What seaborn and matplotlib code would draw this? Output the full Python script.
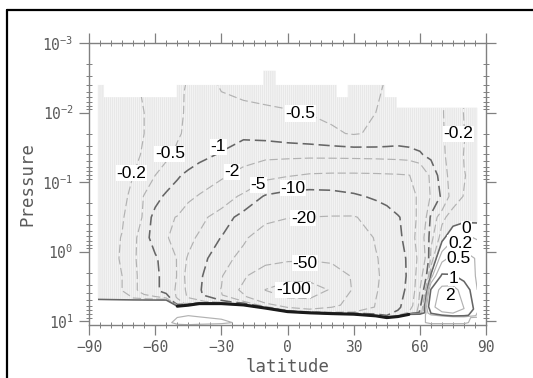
import numpy as np
import seaborn as sns
import matplotlib.pyplot as plt
from matplotlib.lines import Line2D
from matplotlib.patches import Polygon
from matplotlib.ticker import MultipleLocator

# ---------------- data ----------------
lat = [-86, -80, -75, -70, -65, -60, -55, -50, -45, -40, -30, -20, -10, 0,
       10, 20, 30, 40, 45, 50, 55, 60, 65, 70, 75, 80, 86]

# fixed pressure levels of the upper grid rows
p_levels = [0.0025, 0.005, 0.01, 0.02, 0.04, 0.08, 0.16, 0.32, 0.63, 1.25, 2.24, 3.55]
# surface pressure at each latitude
p_surf = [5.0, 5.0, 5.0, 5.0, 5.0, 5.0, 5.0, 6.1, 5.9, 5.6, 5.6, 5.85, 6.5, 7.3,
          7.6, 7.8, 7.95, 8.4, 8.9, 8.6, 8.0, 8.0, 8.3, 8.5, 8.7, 8.8, 9.0]
# terrain following rows (fraction of surface pressure) and rows below ground
sigma_levels = [0.75, 0.93, 1.0]
p_below = [10.5, 12.0]

# streamfunction on the upper rows (one row per p_levels entry)
psi_upper = [
    [-0.10, -0.13, -0.16, -0.18, -0.21, -0.27, -0.34, -0.42, -0.50, -0.53, -0.47, -0.43, -0.41, -0.40,
     -0.38, -0.36, -0.38, -0.44, -0.50, -0.56, -0.58, -0.58, -0.54, -0.50, -0.40, -0.20, -0.12],
    [-0.10, -0.13, -0.16, -0.18, -0.21, -0.28, -0.36, -0.45, -0.53, -0.56, -0.50, -0.46, -0.44, -0.43,
     -0.40, -0.38, -0.40, -0.47, -0.53, -0.60, -0.62, -0.62, -0.58, -0.52, -0.40, -0.20, -0.12],
    [-0.10, -0.13, -0.16, -0.18, -0.20, -0.28, -0.38, -0.46, -0.53, -0.58, -0.60, -0.58, -0.55, -0.52,
     -0.49, -0.45, -0.44, -0.50, -0.58, -0.66, -0.70, -0.70, -0.64, -0.52, -0.38, -0.19, -0.12],
    [-0.10, -0.13, -0.16, -0.18, -0.20, -0.28, -0.38, -0.47, -0.55, -0.65, -0.78, -0.88, -0.80, -0.72,
     -0.64, -0.55, -0.47, -0.55, -0.65, -0.75, -0.80, -0.80, -0.70, -0.53, -0.38, -0.21, -0.12],
    [-0.10, -0.13, -0.16, -0.18, -0.21, -0.30, -0.42, -0.56, -0.70, -0.84, -1.05, -1.40, -1.55, -1.50,
     -1.50, -1.45, -1.40, -1.35, -1.30, -1.25, -1.15, -1.05, -0.85, -0.55, -0.38, -0.19, -0.12],
    [-0.10, -0.13, -0.16, -0.20, -0.33, -0.50, -0.72, -0.92, -1.15, -1.35, -1.75, -2.6, -3.8, -4.7,
     -5.4, -5.6, -5.6, -5.5, -5.4, -5.3, -5.1, -3.8, -1.6, -0.6, -0.40, -0.21, -0.12],
    [-0.10, -0.13, -0.17, -0.23, -0.52, -0.80, -1.1, -1.4, -1.7, -2.1, -3.4, -5.6, -10.6, -12.5,
     -13.0, -12.5, -11.0, -9.0, -8.0, -7.0, -6.0, -4.5, -1.8, -0.85, -0.30, -0.19, -0.10],
    [-0.10, -0.13, -0.18, -0.30, -0.55, -1.25, -1.8, -2.05, -3.0, -4.0, -6.6, -12.5, -17.5, -19.5,
     -20.1, -20.6, -20.8, -16.0, -13.5, -10.5, -7.8, -3.6, -0.8, -0.26, -0.09, -0.06, -0.05],
    [-0.10, -0.14, -0.21, -0.38, -0.75, -1.3, -1.9, -2.4, -3.9, -5.6, -10.2, -18.0, -27.0, -32.0,
     -34.0, -33.0, -28.0, -19.0, -15.0, -11.5, -7.5, -2.8, -0.6, -0.06, 0.16, 0.24, 0.18],
    [-0.10, -0.15, -0.22, -0.42, -0.72, -0.88, -1.4, -2.05, -5.5, -7.5, -14.0, -25.0, -38.0, -44.0,
     -46.0, -44.0, -36.0, -21.0, -16.0, -12.5, -9.0, -3.5, -0.35, 0.38, 0.62, 0.70, 0.45],
    [-0.10, -0.15, -0.20, -0.38, -0.70, -0.85, -1.25, -2.05, -6.5, -8.5, -18.5, -45.0, -75.0, -85.0,
     -85.0, -70.0, -46.0, -22.0, -16.0, -13.0, -9.0, -2.5, 0.05, 1.1, 1.05, 0.80, 0.45],
    [-0.10, -0.15, -0.20, -0.38, -0.70, -0.85, -1.25, -2.2, -6.0, -9.0, -20.5, -58.0, -101.0, -125.0,
     -125.0, -95.0, -45.0, -21.0, -16.0, -12.5, -8.5, -2.0, 1.05, 2.4, 2.5, 1.4, 0.5],
]
# streamfunction on the terrain following rows
psi_sfc = [
    [-0.09, -0.13, -0.18, -0.35, -0.65, -0.8, -1.2, -2.1, -5.5, -8.5, -19.0, -45.0, -80.0, -80.0,
     -80.0, -60.0, -35.0, -19.0, -15.0, -11.0, -7.0, -1.2, 1.6, 2.7, 2.8, 2.0, 0.6],
    [-0.05, -0.08, -0.12, -0.2, -0.3, -0.4, -0.5, -1.2, -2.5, -4.0, -8.0, -12.0, -25.0, -35.0,
     -40.0, -30.0, -20.0, -12.0, -10.0, -8.0, -5.0, -0.8, 1.0, 1.6, 1.7, 1.3, 0.4],
    [0.03, 0.03, 0.03, 0.03, 0.03, 0.03, 0.03, 0.03, 0.03, 0.03, 0.03, 0.03, 0.03, 0.03,
     0.03, 0.03, 0.03, 0.03, 0.03, 0.03, 0.03, 0.1, 0.3, 0.4, 0.4, 0.3, 0.1],
]
# streamfunction below the ground
psi_below = [
    [0.05, 0.05, 0.05, 0.05, 0.05, 0.05, 0.1, 0.3, 0.35, 0.3, 0.25, 0.15, 0.05, 0.05,
     0.05, 0.05, 0.05, 0.05, 0.05, 0.05, 0.05, 0.15, 0.25, 0.25, 0.25, 0.25, 0.1],
    [0.05] * 27,
]

# contour levels and labels
levels = [-100, -50, -20, -10, -5, -2, -1, -0.5, -0.2, 0, 0.2, 0.5, 1, 2]
dark_levels = [-10, -1, 0, 1]
label_text = ['-0.5', '-0.2', '-0.5', '-1', '-0.2', '-2', '-5', '-10', '-20', '-50', '-100',
              '0', '0.2', '0.5', '1', '2']
label_lat = [5.7, 77.4, -53.3, -31.4, -70.7, -25.3, -13.2, 2.6, 7.2, 7.9, 2.6,
             81.2, 78.2, 77.4, 75.2, 73.7]
label_p = [0.0103, 0.020, 0.039, 0.031, 0.074, 0.071, 0.11, 0.123, 0.33, 1.48, 3.55,
           0.47, 0.76, 1.24, 2.43, 4.23]

# top of the data area (step edges in latitude, top pressure per step)
top_edges = [-86, -83.2, -50.2, -11.0, -5.4, 22.3, 27.3, 44.2, 49.5, 86]
top_p = [0.004, 0.006, 0.004, 0.0025, 0.004, 0.006, 0.004, 0.006, 0.0085]

x_ticks = [-90, -60, -30, 0, 30, 60, 90]
y_ticks = [1e-3, 1e-2, 1e-1, 1e0, 1e1]
y_tick_labels = [r'$\mathregular{10^{-3}}$', r'$\mathregular{10^{-2}}$', r'$\mathregular{10^{-1}}$',
                 r'$\mathregular{10^{0}}$', r'$\mathregular{10^{1}}$']

# ---------------- style ----------------
sns.set_style("ticks")
plt.rcParams['font.family'] = ['DejaVu Sans Mono']
plt.rcParams['hatch.color'] = '#dedede'
plt.rcParams['hatch.linewidth'] = 0.35
grey_txt = '#5a5a5a'

fig = plt.figure(figsize=(5.33, 3.78), dpi=100)
ax = fig.add_axes([0.167, 0.140, 0.745, 0.746])
ax.set_yscale('log')

# grid: fixed rows on top, terrain following rows, then below-ground rows
lat_arr = np.array(lat, dtype=float)
ps_arr = np.array(p_surf)
p_rows = [np.full(len(lat), p) for p in p_levels]
p_rows += [s * ps_arr for s in sigma_levels]
p_rows += [np.full(len(lat), p) for p in p_below]
p2d = np.vstack(p_rows)
lat2d = np.tile(lat_arr, (p2d.shape[0], 1))
psi = np.array(psi_upper + psi_sfc + psi_below)

# outline of the data area
top_xy = []
for i in range(len(top_p)):
    top_xy += [(top_edges[i], top_p[i]), (top_edges[i + 1], top_p[i])]
domain_xy = top_xy + [(lat[j], p_surf[j]) for j in range(len(lat) - 1, -1, -1)]
domain = Polygon(domain_xy, closed=True, transform=ax.transData, fc='none', ec='none')
ax.add_patch(domain)
upper = Polygon(top_xy + [(86, 12), (-86, 12)], closed=True, transform=ax.transData,
                fc='none', ec='none')
ax.add_patch(upper)

# grey shading of the negative cell
neg = ax.contourf(lat2d, p2d, psi, levels=[-1000, 0], colors=['#e8e8e8'], hatches=['||||||||'])
neg.set_clip_path(domain)

# contour lines
line_colors = ['#666666' if lv in dark_levels else '#b2b2b2' for lv in levels]
line_widths = [1.15 if lv in dark_levels else 0.85 for lv in levels]
line_styles = [(0, (7, 3)) if lv < 0 else 'solid' for lv in levels]
cs = ax.contour(lat2d, p2d, psi, levels=levels, colors=line_colors,
                linewidths=line_widths, linestyles=line_styles)
cs.set_clip_path(upper)

# surface line
sns.lineplot(x=lat[7:21], y=p_surf[7:21], ax=ax, color='#1a1a1a', linewidth=2.2,
             sort=False, estimator=None)

# contour labels
for txt, x, y in zip(label_text, label_lat, label_p):
    ax.text(x, y, txt, ha='center', va='center', fontsize=12.5, family='Liberation Sans',
            color='black', bbox=dict(facecolor='white', edgecolor='none', pad=0.4))

# axes
ax.set_xlim(-90, 90)
ax.set_ylim(11.4, 0.001)
ax.set_xticks(x_ticks)
ax.xaxis.set_minor_locator(MultipleLocator(5))
ax.set_yticks(y_ticks, y_tick_labels)
ax.set_yticks([m * 10.0 ** e for e in range(-3, 1) for m in range(2, 10)], minor=True)
ax.set_yticklabels([], minor=True)
ax.tick_params(which='both', top=True, right=True, colors='#808080', labelcolor=grey_txt,
               labelsize=10.5)
ax.tick_params(which='major', direction='out', length=7, width=0.9, pad=4)
ax.tick_params(which='minor', direction='inout', length=5, width=0.7)
for sp in ax.spines.values():
    sp.set_color('#808080')
    sp.set_linewidth(1.0)
ax.set_xlabel('latitude', fontsize=12.5, color=grey_txt, labelpad=2)
ax.set_ylabel('Pressure', fontsize=12.5, color=grey_txt, labelpad=4)

# outer frame (cut off at right and bottom)
fig.add_artist(Line2D([0.0131, 1.0], [0.9725, 0.9725], transform=fig.transFigure,
                      color='black', linewidth=1.6))
fig.add_artist(Line2D([0.0131, 0.0131], [0.0, 0.9725], transform=fig.transFigure,
                      color='black', linewidth=1.6))

fig.savefig('out.png', dpi=100)
